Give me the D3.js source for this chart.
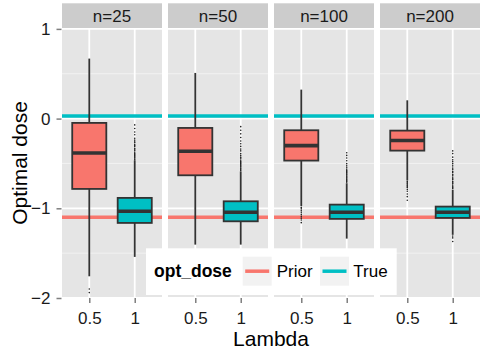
<!DOCTYPE html>
<html><head><meta charset="utf-8">
<script src="https://cdn.jsdelivr.net/npm/d3@7"></script>
<style>
body{margin:0;background:#fff}
svg{display:block}
text{font-family:"Liberation Sans",Arial,Helvetica,sans-serif}
</style>
</head><body>
<svg id="chart" width="482" height="360"></svg>
<script>
// ---------------- data ----------------
const panels = ["n=25", "n=50", "n=100", "n=200"];
const lambdas = ["0.5", "1"];
const groups = ["Prior", "True"];
const groupColors = ["#F8766D", "#00BFC4"];
const hlineValues = [-1.1, 0.03];           // Prior, True
const yTicks = [-2, -1, 0, 1];
const yMinor = [-1.5, -0.5, 0.5];

// per panel: [lambda 0.5 (Prior), lambda 1 (True)]
const whiskerLow  = [[-1.758, -1.542], [-1.405, -1.405], [-0.975, -1.338], [-0.690, -1.296]];
const q1          = [[-0.784, -1.163], [-0.632, -1.145], [-0.468, -1.118], [-0.357, -1.107]];
const medians     = [[-0.383, -1.033], [-0.364, -1.044], [-0.301, -1.044], [-0.245, -1.044]];
const q3          = [[-0.048, -0.884], [-0.104, -0.922], [-0.130, -0.959], [-0.134, -0.981]];
const whiskerHigh = [[ 0.669, -0.465], [ 0.509, -0.588], [ 0.323, -0.720], [ 0.204, -0.792]];
const outliers = [
  [[-1.90, -1.94],
   [-0.07,-0.11,-0.15,-0.18,-0.22,-0.24,-0.26,-0.27,-0.29,-0.30,-0.31,-0.33,-0.34,-0.35,-0.36,-0.38,-0.39,-0.40,-0.41,-0.42,-0.43,-0.44,-0.45,-0.46]],
  [[],
   [-0.09,-0.13,-0.17,-0.21,-0.25,-0.28,-0.31,-0.34,-0.36,-0.39,-0.41,-0.43,-0.44,-0.45,-0.47,-0.48,-0.49,-0.50,-0.51,-0.52,-0.53,-0.54,-0.55,-0.56,-0.57,-0.58]],
  [[-0.99,-1.00,-1.02,-1.03,-1.05,-1.07,-1.09,-1.11,-1.13,-1.16],
   [-0.38,-0.41,-0.44,-0.47,-0.50,-0.52,-0.54,-0.55,-0.57,-0.58,-0.59,-0.60,-0.61,-0.62,-0.63,-0.64,-0.65,-0.66,-0.67,-0.68,-0.69,-0.70,-0.71]],
  [[-0.70,-0.71,-0.72,-0.73,-0.74,-0.75,-0.76,-0.77,-0.79,-0.81,-0.84,-0.87,-0.91],
   [-0.36,-0.39,-0.43,-0.46,-0.48,-0.50,-0.52,-0.54,-0.56,-0.57,-0.59,-0.60,-0.62,-0.63,-0.64,-0.66,-0.67,-0.68,-0.70,-0.71,-0.72,-0.73,-0.75,-0.76,-0.77,-0.78,-1.31,-1.33,-1.37]]
];

// ---------------- layout ----------------
const svg = d3.select("#chart");
const panelTop = 28, panelBottom = 298;
const stripTop = 3.3;
const fx = d3.scaleBand().domain(panels).range([62, 480]).paddingInner(6 / 106);
const pw = fx.bandwidth();
const x = d3.scalePoint().domain(lambdas).range([0, pw]).padding(0.6);
const boxW = x.step() * 0.75;
const y = d3.scaleLinear().domain([-2.0, 1.01]).range([panelBottom, panelTop]);

const FONT_TICK = 17, FONT_TITLE = 21;

panels.forEach((p, pi) => {
  const g = svg.append("g").attr("transform", `translate(${fx(p)},0)`);
  // strip
  g.append("rect").attr("x", 0).attr("y", stripTop).attr("width", pw)
    .attr("height", panelTop - stripTop).attr("fill", "#CCCCCC");
  g.append("text").attr("x", pw / 2).attr("y", 22.3).attr("text-anchor", "middle")
    .attr("font-size", FONT_TICK).attr("fill", "#1A1A1A").text(p);
  // panel background
  g.append("rect").attr("x", 0).attr("y", panelTop).attr("width", pw)
    .attr("height", panelBottom - panelTop).attr("fill", "#E5E5E5");
  const clipId = "clip" + pi;
  g.append("clipPath").attr("id", clipId).append("rect")
    .attr("x", 0).attr("y", panelTop).attr("width", pw).attr("height", panelBottom - panelTop);
  const inner = g.append("g").attr("clip-path", `url(#${clipId})`);
  // grid
  inner.selectAll(".minor").data(yMinor).join("line")
    .attr("x1", 0).attr("x2", pw).attr("y1", d => y(d)).attr("y2", d => y(d))
    .attr("stroke", "#F2F2F2").attr("stroke-width", 1);
  inner.selectAll(".majory").data(yTicks).join("line")
    .attr("x1", 0).attr("x2", pw).attr("y1", d => y(d)).attr("y2", d => y(d))
    .attr("stroke", "#FFFFFF").attr("stroke-width", 1.8);
  inner.selectAll(".majorx").data(lambdas).join("line")
    .attr("x1", d => x(d)).attr("x2", d => x(d)).attr("y1", panelTop).attr("y2", panelBottom)
    .attr("stroke", "#FFFFFF").attr("stroke-width", 1.8);
  // hlines
  inner.selectAll(".hl").data(hlineValues).join("line")
    .attr("x1", 0).attr("x2", pw).attr("y1", d => y(d)).attr("y2", d => y(d))
    .attr("stroke", (d, i) => groupColors[i]).attr("stroke-width", 3.5);
  // boxplots
  lambdas.forEach((lam, li) => {
    const cx = x(lam);
    const bg = inner.append("g");
    bg.append("line").attr("x1", cx).attr("x2", cx)
      .attr("y1", y(whiskerHigh[pi][li])).attr("y2", y(q3[pi][li]))
      .attr("stroke", "#333333").attr("stroke-width", 1.8);
    bg.append("line").attr("x1", cx).attr("x2", cx)
      .attr("y1", y(q1[pi][li])).attr("y2", y(whiskerLow[pi][li]))
      .attr("stroke", "#333333").attr("stroke-width", 1.8);
    bg.append("rect").attr("x", cx - boxW / 2).attr("width", boxW)
      .attr("y", y(q3[pi][li])).attr("height", y(q1[pi][li]) - y(q3[pi][li]))
      .attr("fill", groupColors[li]).attr("stroke", "#333333").attr("stroke-width", 1.8);
    bg.append("line").attr("x1", cx - boxW / 2).attr("x2", cx + boxW / 2)
      .attr("y1", y(medians[pi][li])).attr("y2", y(medians[pi][li]))
      .attr("stroke", "#333333").attr("stroke-width", 3.6);
    bg.selectAll("circle").data(outliers[pi][li]).join("circle")
      .attr("cx", cx).attr("cy", d => y(d)).attr("r", 0.8).attr("fill", "#222222");
  });
  // x axis
  const xa = g.append("g").attr("transform", `translate(0,${panelBottom})`)
    .call(d3.axisBottom(x).tickSize(5).tickPadding(9));
  xa.select(".domain").remove();
  xa.selectAll("line").attr("stroke", "#7F7F7F").attr("stroke-width", 1.5);
  xa.selectAll("text").attr("font-size", FONT_TICK).attr("fill", "#1A1A1A")
    .attr("font-family", null);
});

// y axis
const ya = svg.append("g").attr("transform", "translate(61.5,0)")
  .call(d3.axisLeft(y).tickValues(yTicks).tickFormat(d3.format("d")).tickSize(5).tickPadding(6));
ya.select(".domain").remove();
ya.selectAll("line").attr("stroke", "#7F7F7F").attr("stroke-width", 1.5);
ya.selectAll("text").attr("font-size", FONT_TICK).attr("fill", "#1A1A1A").attr("font-family", null);

// axis titles
svg.append("text").attr("x", 271).attr("y", 346).attr("text-anchor", "middle")
  .attr("font-size", FONT_TITLE).attr("fill", "#000").text("Lambda");
svg.append("text").attr("transform", "translate(27,163) rotate(-90)").attr("text-anchor", "middle")
  .attr("font-size", FONT_TITLE).attr("fill", "#000").text("Optimal dose");

// legend
const lg = svg.append("g");
lg.append("rect").attr("x", 146).attr("y", 248.3).attr("width", 250.7).attr("height", 46.7).attr("fill", "#FFFFFF");
lg.append("text").attr("x", 154).attr("y", 277.3).attr("font-size", 17.5).attr("font-weight", "bold")
  .attr("fill", "#000").text("opt_dose");
const keyX = [242.7, 320];
const labX = [276.7, 353.3];
groups.forEach((gname, i) => {
  lg.append("rect").attr("x", keyX[i]).attr("y", 256.7).attr("width", 29).attr("height", 29).attr("fill", "#F2F2F2");
  lg.append("line").attr("x1", keyX[i] + 2.5).attr("x2", keyX[i] + 26.5)
    .attr("y1", 271.2).attr("y2", 271.2).attr("stroke", groupColors[i]).attr("stroke-width", 3.5);
  lg.append("text").attr("x", labX[i]).attr("y", 277.3).attr("font-size", 17).attr("fill", "#000").text(gname);
});
</script>
</body></html>
